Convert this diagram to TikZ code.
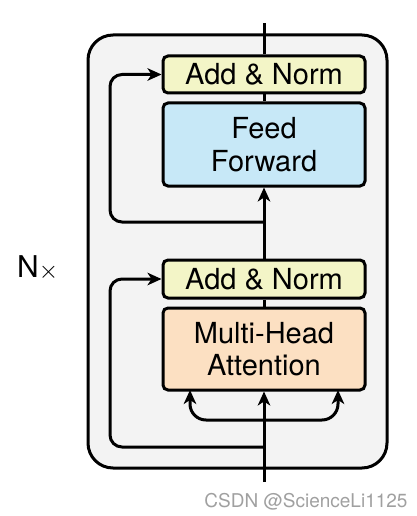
\documentclass[tikz,border=0pt]{standalone}
\usepackage{fontspec}
\setmainfont{TeX Gyre Heros}
\usetikzlibrary{arrows.meta}
\definecolor{outerfill}{RGB}{243,243,243}
\definecolor{anfill}{RGB}{243,245,199}
\definecolor{fffill}{RGB}{199,232,247}
\definecolor{mhafill}{RGB}{252,224,194}
\definecolor{wmgray}{RGB}{160,160,160}
\begin{document}
\begin{tikzpicture}[x=1pt,y=-1pt,
  blk/.style={draw=black, line width=3pt, rounded corners=5pt, minimum width=202pt, inner sep=0pt, align=center, font=\fontsize{29}{33}\selectfont},
  conn/.style={line width=3pt},
  arr/.style={conn, -{Stealth[length=14pt,width=12.5pt,inset=4pt]}},
]
\useasboundingbox (0,0) rectangle (416,516);
% outer block
\draw[line width=3pt, fill=outerfill, rounded corners=25pt] (88,35) rectangle (387,468);
% nodes
\node[blk, fill=anfill, minimum height=37pt] (an2) at (264,74.5) {Add \& Norm};
\node[blk, fill=fffill, minimum height=83pt] (ff) at (264,144.5) {Feed\\Forward};
\node[blk, fill=anfill, minimum height=38pt] (an1) at (264,279) {Add \& Norm};
\node[blk, fill=mhafill, minimum height=82pt, font=\fontsize{29}{35}\selectfont] (mha) at (264,349) {Multi-Head\\[-3pt]Attention};
\node[font=\fontsize{30}{32}\selectfont, inner sep=0pt, anchor=base west] (nx) at (17,277) {N\raisebox{-1.5pt}{\fontsize{36}{36}\selectfont$\times$}};
\node[font=\fontsize{19}{20}\selectfont, text=wmgray, inner sep=0pt] (wm) at (306,502) {CSDN @ScienceLi1125};
% coordinates
\coordinate (top) at (264,23);
\coordinate (bot) at (264,482);
\coordinate (r2) at (264,222);
\coordinate (r2a) at (110,222);
\coordinate (r2b) at (110,74.5);
\coordinate (r1) at (264,447);
\coordinate (r1a) at (110,447);
\coordinate (r1b) at (110,279);
\coordinate (fork) at (264,420);
\coordinate (kl) at (190,420);
\coordinate (kr) at (338,420);
\coordinate (kle) at (190,390);
\coordinate (kre) at (338,390);
% main path
\draw[conn] (an2.north) -- (top);
\draw[conn] (ff.north) -- (an2.south);
\draw[arr] (an1.north) -- (ff.south);
\draw[conn] (mha.north) -- (an1.south);
\draw[arr] (bot) -- (mha.south);
% residuals
\draw[arr, rounded corners=12pt] (r2) -- (r2a) -- (r2b) -- (an2.west);
\draw[arr, rounded corners=12pt] (r1) -- (r1a) -- (r1b) -- (an1.west);
% attention inputs
\draw[arr, rounded corners=16pt] (fork) -- (kl) -- (kle);
\draw[arr, rounded corners=16pt] (fork) -- (kr) -- (kre);
\end{tikzpicture}
\end{document}
